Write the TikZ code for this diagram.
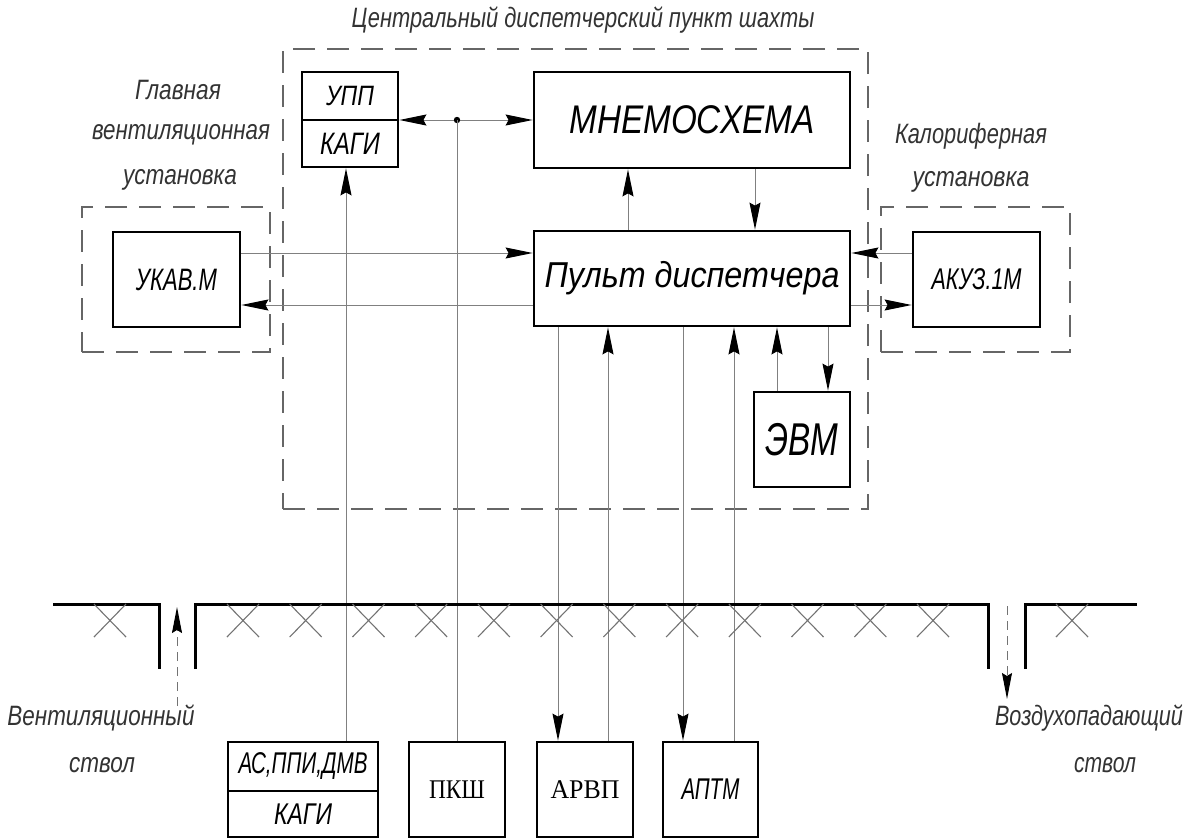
\documentclass[tikz,border=0pt]{standalone}
\usepackage{fontspec}
\usepackage{graphicx}
\setmainfont{Liberation Sans}
\newfontfamily\gost{Liberation Sans}
\newfontfamily\tms{Liberation Serif}
\usetikzlibrary{arrows.meta}
\newcommand\gtxt[3]{{\gost\itshape\fontsize{#1}{#1}\selectfont\resizebox{#2pt}{\height}{#3}}}
\newcommand\ttxt[3]{{\tms\fontsize{#1}{#1}\selectfont\resizebox{#2pt}{\height}{#3}}}
\tikzset{
  box/.style={draw=black, line width=2.8pt, rectangle, inner sep=0pt},
  dbox/.style={draw=black!60, line width=1.3pt, dash pattern=on 22pt off 12pt, rectangle, inner sep=0pt},
  lbl/.style={inner sep=0pt, text=black!80},
  conn/.style={draw=black!50, line width=1pt},
  arr/.style={-{Stealth[length=27pt,width=11pt,inset=3pt,color=black,fill=black]}},
  ground/.style={draw=black, line width=3pt},
  xm/.style={draw=black!55, line width=1.1pt},
  shaft/.style={draw=black!55, line width=1pt, dash pattern=on 9pt off 6pt,
    -{Stealth[length=26pt,width=10pt,inset=3pt,color=black,fill=black]}}
}
\begin{document}
\begin{tikzpicture}[x=1pt,y=-1pt]
\useasboundingbox (0,0) rectangle (1184,839);

% dashed enclosures
\node[dbox, minimum width=585pt, minimum height=460pt] (cdp) at (575.5,279) {};
\node[dbox, minimum width=188pt, minimum height=145pt] (gvu) at (176,279.5) {};
\node[dbox, minimum width=189pt, minimum height=145pt] (kal) at (975.5,279.5) {};

% labels
\node[lbl] (title) at (583,20) {\gtxt{28}{463}{Центральный диспетчерский пункт шахты}};
\node[lbl] (l1) at (178,90) {\gtxt{28}{86}{Главная}};
\node[lbl] (l2) at (181,135) {\gtxt{28}{178}{вентиляционная}};
\node[lbl] (l3) at (180,180) {\gtxt{28}{114}{установка}};
\node[lbl] (r1) at (971,136) {\gtxt{28}{152}{Калориферная}};
\node[lbl] (r2) at (971,182) {\gtxt{28}{117}{установка}};
\node[lbl] (b1) at (101,718) {\gtxt{28}{187}{Вентиляционный}};
\node[lbl] (b2) at (102,765) {\gtxt{28}{66}{ствол}};
\node[lbl] (b3) at (1089,718) {\gtxt{28}{188}{Воздухопадающий}};
\node[lbl] (b4) at (1105,765) {\gtxt{28}{62}{ствол}};

% boxes
\node[box, minimum width=96pt, minimum height=48pt] (upp) at (350,96) {\gtxt{28}{48}{УПП}};
\node[box, minimum width=96pt, minimum height=47pt] (kagi) at (350,143.5) {\gtxt{31}{60}{КАГИ}};
\node[box, minimum width=316pt, minimum height=96pt] (mnemo) at (692,120) {\gtxt{40}{245}{МНЕМОСХЕМА}};
\node[box, minimum width=316pt, minimum height=95pt] (pult) at (692,278.5) {\gtxt{36}{295}{Пульт диспетчера}};
\node[box, minimum width=127pt, minimum height=95pt] (ukav) at (176.5,279.5) {\gtxt{31}{81}{УКАВ.М}};
\node[box, minimum width=127pt, minimum height=95pt] (akuz) at (976.5,279.5) {\gtxt{30}{90}{АКУЗ.1М}};
\node[box, minimum width=96pt, minimum height=95pt] (evm) at (802,439.5) {\gtxt{46}{73}{ЭВМ}};
\node[box, minimum width=150pt, minimum height=49pt] (asb) at (303,766.5) {\gtxt{30}{129}{АС,ППИ,ДМВ}};
\node[box, minimum width=150pt, minimum height=46pt] (askagi) at (303,814) {\gtxt{30}{58}{КАГИ}};
\node[box, minimum width=96pt, minimum height=95pt] (pksh) at (457,789.5) {\ttxt{27}{56}{ПКШ}};
\node[box, minimum width=96pt, minimum height=95pt] (arvp) at (585,789.5) {\ttxt{27}{69}{АРВП}};
\node[box, minimum width=95pt, minimum height=95pt] (aptm) at (710.5,789.5) {\gtxt{30}{58}{АПТМ}};

% helper coordinates
\coordinate (dot) at (457,120);
\foreach \c in {346,558,608,628,683,734,755,777,828} {\coordinate (c\c) at (\c,0);}
\coordinate (r253) at (0,253);
\coordinate (r305) at (0,305);

% connectors
\draw[conn,arr] (dot) -- (dot -| upp.east);
\draw[conn,arr] (dot) -- (dot -| mnemo.west);
\fill[black] (dot) circle (3.2pt);
\draw[conn] (pksh.north) -- (dot);
\draw[conn,arr] (asb.north -| c346) -- (kagi.south -| c346);
\draw[conn,arr] (pult.north -| c628) -- (mnemo.south -| c628);
\draw[conn,arr] (mnemo.south -| c755) -- (pult.north -| c755);
\draw[conn,arr] (ukav.east |- r253) -- (pult.west |- r253);
\draw[conn,arr] (pult.west |- r305) -- (ukav.east |- r305);
\draw[conn,arr] (akuz.west |- r253) -- (pult.east |- r253);
\draw[conn,arr] (pult.east |- r305) -- (akuz.west |- r305);
\draw[conn,arr] (evm.north -| c777) -- (pult.south -| c777);
\draw[conn,arr] (pult.south -| c828) -- (evm.north -| c828);
\draw[conn,arr] (pult.south -| c558) -- (arvp.north -| c558);
\draw[conn,arr] (arvp.north -| c608) -- (pult.south -| c608);
\draw[conn,arr] (pult.south -| c683) -- (aptm.north -| c683);
\draw[conn,arr] (aptm.north -| c734) -- (pult.south -| c734);

% ground surface with shafts
\draw[ground] (53,604) -- (159,604) -- (159,669);
\draw[ground] (195,669) -- (195,604) -- (988,604) -- (988,669);
\draw[ground] (1025,669) -- (1025,604) -- (1137,604);
\foreach \x in {110,243,305.7,368.5,431.2,493.9,556.6,619.4,682.1,744.8,807.5,870.3,933,1072} {
  \draw[xm] (\x-16,604) -- (\x+16,637);
  \draw[xm] (\x+16,604) -- (\x-16,637);
}
\coordinate (vlo) at (177,706);
\coordinate (vhi) at (177,607);
\coordinate (zhi) at (1007,606);
\coordinate (zlo) at (1007,699);
\draw[shaft] (vlo) -- (vhi);
\draw[shaft] (zhi) -- (zlo);
\end{tikzpicture}
\end{document}
